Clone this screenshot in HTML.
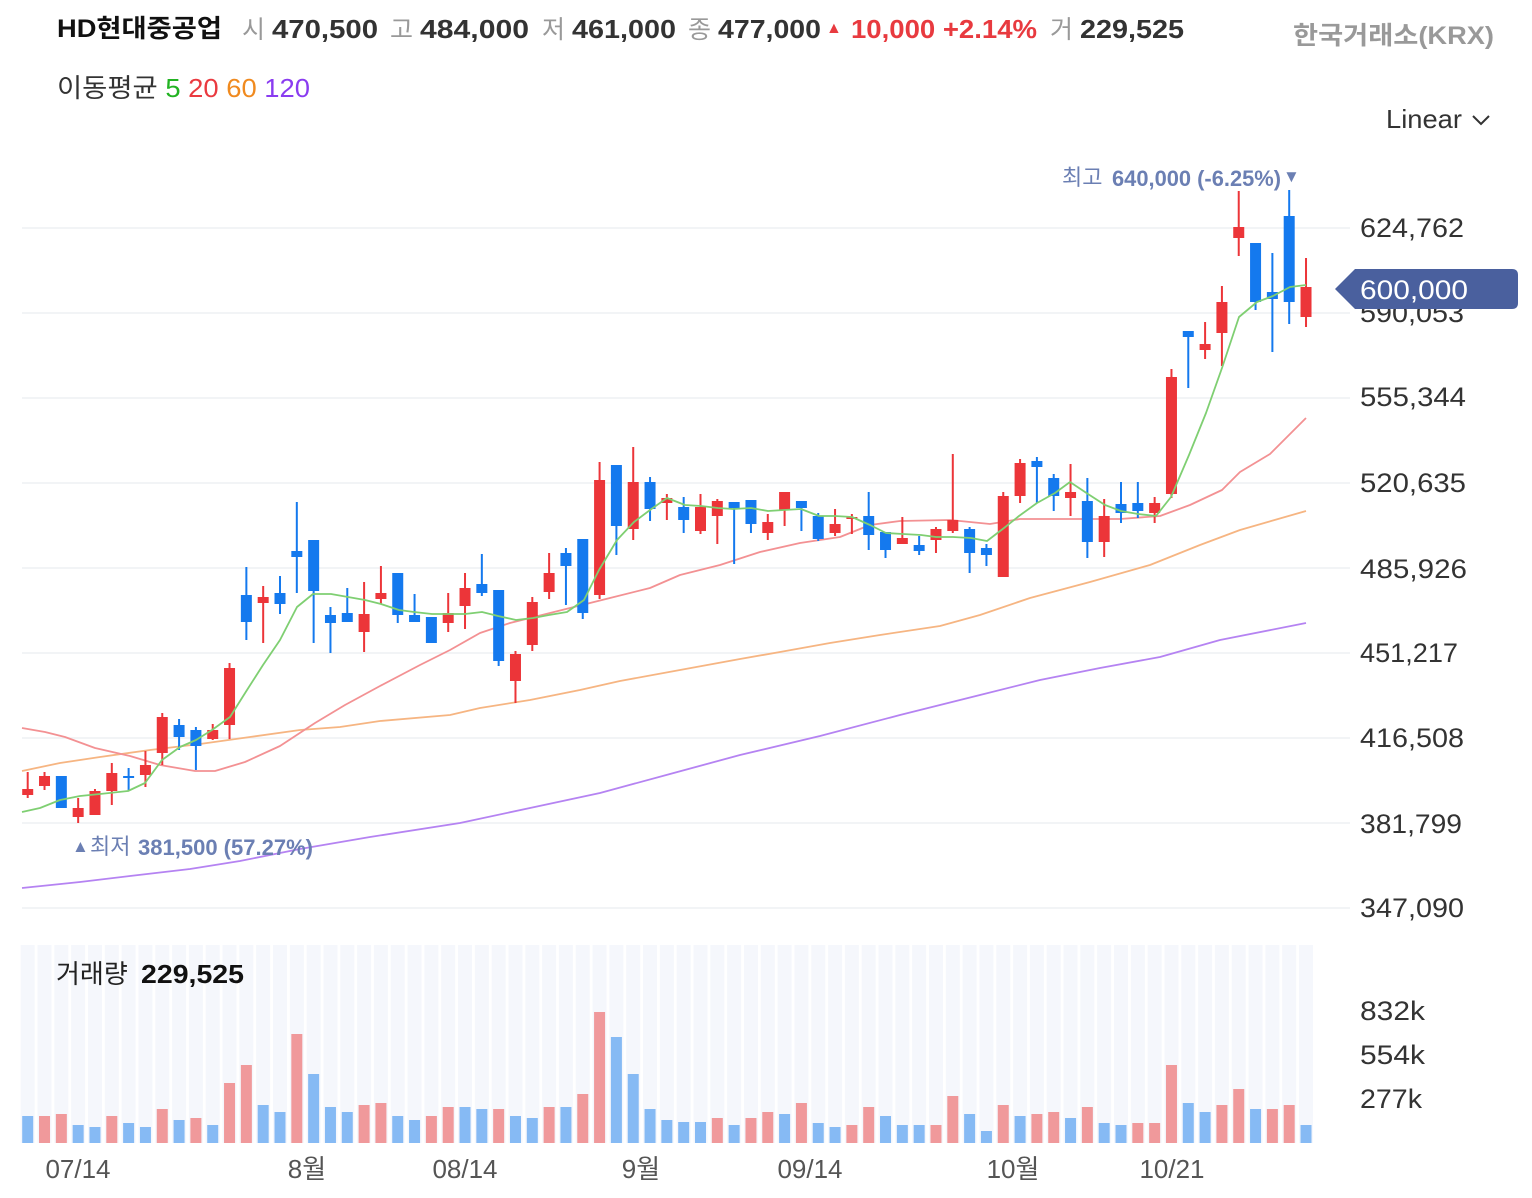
<!DOCTYPE html>
<html><head><meta charset="utf-8"><style>
html,body{margin:0;padding:0;background:#fff;width:1532px;height:1198px;overflow:hidden}
svg{display:block;font-family:"Liberation Sans","Noto Sans CJK KR",sans-serif}
</style></head><body>
<svg id="s" width="1532" height="1198" viewBox="0 0 1532 1198" xmlns="http://www.w3.org/2000/svg">
<g id="bg"></g>
<g stroke="#eef0f3" stroke-width="1.5">
<line x1="22" x2="1350" y1="228" y2="228"/><line x1="22" x2="1350" y1="313" y2="313"/><line x1="22" x2="1350" y1="398" y2="398"/><line x1="22" x2="1350" y1="483" y2="483"/><line x1="22" x2="1350" y1="568" y2="568"/><line x1="22" x2="1350" y1="653" y2="653"/><line x1="22" x2="1350" y1="738" y2="738"/><line x1="22" x2="1350" y1="823" y2="823"/><line x1="22" x2="1350" y1="908" y2="908"/>
</g>
<g id="vol"></g>
<g fill="none" stroke-width="1.8" stroke-linejoin="round">
<polyline id="m120" stroke="#b583f2"/>
<polyline id="m60" stroke="#f6b582"/>
<polyline id="m20" stroke="#f39193"/>
</g>
<g id="cand"></g>
<polyline id="m5" fill="none" stroke="#7fcf72" stroke-width="1.8" stroke-linejoin="round"/>
<text x="57" y="37" font-size="25" font-weight="bold" fill="#111" textLength="165" lengthAdjust="spacingAndGlyphs">HD현대중공업</text>
<g font-size="26" fill="#333">
<text x="242" y="38" fill="#999" font-size="25">시</text><text x="272" y="38" font-weight="bold" textLength="106" lengthAdjust="spacingAndGlyphs">470,500</text>
<text x="390" y="38" fill="#999" font-size="25">고</text><text x="420" y="38" font-weight="bold" textLength="109" lengthAdjust="spacingAndGlyphs">484,000</text>
<text x="542" y="38" fill="#999" font-size="25">저</text><text x="572" y="38" font-weight="bold" textLength="104" lengthAdjust="spacingAndGlyphs">461,000</text>
<text x="688" y="38" fill="#999" font-size="25">종</text><text x="718" y="38" font-weight="bold" textLength="103" lengthAdjust="spacingAndGlyphs">477,000</text>
<text x="826" y="33" fill="#e83a3f" font-size="16">▲</text>
<text x="851" y="38" fill="#e83a3f" font-weight="bold" textLength="186" lengthAdjust="spacingAndGlyphs">10,000 +2.14%</text>
<text x="1050" y="38" fill="#999" font-size="25">거</text><text x="1080" y="38" font-weight="bold" textLength="104" lengthAdjust="spacingAndGlyphs">229,525</text>
</g>
<text x="1293" y="44" font-size="25" font-weight="bold" fill="#999" textLength="201" lengthAdjust="spacingAndGlyphs">한국거래소(KRX)</text>
<text x="57" y="97" font-size="26" fill="#333" textLength="253" lengthAdjust="spacingAndGlyphs">이동평균 <tspan fill="#22b322">5</tspan> <tspan fill="#ea3a40">20</tspan> <tspan fill="#f08a1f">60</tspan> <tspan fill="#8a3cf0">120</tspan></text>
<text x="1386" y="128" font-size="26" fill="#333" textLength="76" lengthAdjust="spacingAndGlyphs">Linear</text>
<polyline points="1473,116 1481,124 1489,116" fill="none" stroke="#333" stroke-width="2"/>
<g font-size="27" fill="#333">
<text x="1360" y="237" textLength="104" lengthAdjust="spacingAndGlyphs">624,762</text>
<text x="1360" y="322" textLength="104" lengthAdjust="spacingAndGlyphs">590,053</text>
<text x="1360" y="406" textLength="106" lengthAdjust="spacingAndGlyphs">555,344</text>
<text x="1360" y="492" textLength="106" lengthAdjust="spacingAndGlyphs">520,635</text>
<text x="1360" y="578" textLength="107" lengthAdjust="spacingAndGlyphs">485,926</text>
<text x="1360" y="662" textLength="98" lengthAdjust="spacingAndGlyphs">451,217</text>
<text x="1360" y="747" textLength="104" lengthAdjust="spacingAndGlyphs">416,508</text>
<text x="1360" y="833" textLength="102" lengthAdjust="spacingAndGlyphs">381,799</text>
<text x="1360" y="917" textLength="104" lengthAdjust="spacingAndGlyphs">347,090</text>
<text x="1360" y="1020" textLength="65" lengthAdjust="spacingAndGlyphs">832k</text>
<text x="1360" y="1064" textLength="65" lengthAdjust="spacingAndGlyphs">554k</text>
<text x="1360" y="1108" textLength="62" lengthAdjust="spacingAndGlyphs">277k</text>
</g>
<path d="M1335,289 L1355,269 L1512,269 Q1518,269 1518,275 L1518,303 Q1518,309 1512,309 L1355,309 Z" fill="#4a609e"/>
<text x="1360" y="299" font-size="27" fill="#fff" textLength="108" lengthAdjust="spacingAndGlyphs">600,000</text>
<g font-size="22" fill="#6b7fb3">
<text x="1062" y="185">최고</text>
<text x="1112" y="186" font-weight="bold" textLength="169" lengthAdjust="spacingAndGlyphs">640,000 (-6.25%)</text>
<text x="1283" y="182" font-size="17">▼</text>
<text x="72" y="852" font-size="17">▲</text>
<text x="90" y="854">최저</text>
<text x="138" y="855" font-weight="bold" textLength="175" lengthAdjust="spacingAndGlyphs">381,500 (57.27%)</text>
</g>
<text x="56" y="983" font-size="26" fill="#222">거래량</text>
<text x="141" y="983" font-size="26" font-weight="bold" fill="#111" textLength="103" lengthAdjust="spacingAndGlyphs">229,525</text>
<g font-size="26" fill="#555" text-anchor="middle">
<text x="78" y="1178">07/14</text><text x="307" y="1178">8월</text><text x="465" y="1178">08/14</text><text x="641" y="1178">9월</text><text x="810" y="1178">09/14</text><text x="1013" y="1178">10월</text><text x="1172" y="1178">10/21</text>
</g>
</svg>
<script>
var NS="http://www.w3.org/2000/svg";
function X(i){return 27.7+16.82*i;}
function el(p,t,a){var e=document.createElementNS(NS,t);for(var k in a)e.setAttribute(k,a[k]);document.getElementById(p).appendChild(e);}
var C=[['r',789,795,772,798],['r',776,786,772,790],['b',776,808,776,808],['r',808,817,798,823],['r',791,815,789,815],['r',773,791,763,805],['b',776,778,768,791],['r',765,775,751,787],['r',717,753,713,765],['b',725,737,719,750],['b',730,746,727,770],['r',730,739,724,740],['r',668,725,663,739],['b',595,622,567,640],['r',597,603,586,643],['b',593,604,576,614],['b',551,557,502,593],['b',540,591,540,643],['b',615,623,607,653],['b',613,622,588,622],['r',614,632,582,652],['r',593,599,566,604],['b',573,615,573,623],['b',615,622,594,622],['b',617,643,617,643],['r',613,623,593,632],['r',588,606,573,629],['b',584,593,554,596],['b',590,661,590,666],['r',654,681,651,703],['r',602,645,597,651],['r',573,592,553,599],['b',553,566,548,605],['b',539,613,539,619],['r',480,595,462,599],['b',465,526,465,555],['r',482,529,447,540],['b',482,509,477,521],['r',498,503,494,520],['b',507,520,497,533],['r',507,531,494,534],['r',501,516,499,544],['b',502,508,502,564],['b',500,524,500,533],['r',522,533,514,540],['r',492,510,492,526],['b',501,508,501,531],['b',516,539,513,541],['r',524,533,509,536],['r',517,519,514,534],['b',516,535,492,550],['b',532,550,532,558],['r',538,544,517,544],['b',545,551,536,555],['r',529,540,527,553],['r',520,531,454,533],['b',529,553,527,573],['b',548,555,544,566],['r',496,577,492,577],['r',463,496,459,503],['b',461,467,457,503],['b',478,496,474,511],['r',492,498,464,516],['b',501,542,478,558],['r',516,542,499,557],['b',504,513,482,523],['b',503,511,482,518],['r',503,513,497,523],['r',377,494,369,498],['b',331,337,331,388],['r',344,350,322,359],['r',302,333,286,366],['r',227,238,191,256],['b',243,302,243,310],['b',292,299,253,352],['b',216,302,190,324],['r',287,317,258,327]];
var V="b1116 r1116 r1114 b1125 b1127 r1116 b1123 b1127 r1109 b1120 r1118 b1125 r1083 r1065 b1105 b1112 r1034 b1074 b1107 b1112 r1105 r1103 b1116 b1120 r1116 r1107 b1107 b1109 r1109 b1116 b1118 r1107 b1107 r1094 r1012 b1037 b1074 b1109 b1120 b1122 b1122 r1118 b1125 r1118 r1112 b1114 r1103 b1123 b1127 r1125 r1107 b1116 b1125 b1125 r1125 r1096 b1114 b1131 r1105 b1116 r1114 r1112 b1118 r1107 b1123 b1125 r1123 r1123 r1065 b1103 b1112 r1105 r1089 b1109 r1109 r1105 b1125".split(" ");
for(var i=0;i<77;i++){
 var x=X(i);
 el('bg','rect',{x:x-7,y:945,width:14,height:198,fill:'#f5f7fc'});
 var v=V[i],t=+v.slice(1);
 el('vol','rect',{x:x-5.5,y:t,width:11,height:1143-t,fill:v[0]=='r'?'#f0999b':'#86baf4'});
 var c=C[i],col=c[0]=='r'?'#ec3539':'#1479ee';
 el('cand','line',{x1:x,x2:x,y1:c[3],y2:c[4],stroke:col,'stroke-width':2});
 el('cand','rect',{x:x-5.5,y:c[1],width:11,height:Math.max(2,c[2]-c[1]),fill:col});
}
function P(id,s){document.getElementById(id).setAttribute('points',s);}
P('m5',"22,812 40,808 60,800 80,796 100,794 128,791 145,783 162,760 180,747 196,740 212,730 230,717 247,690 263,665 280,640 297,607 313,594 331,594 348,597 365,600 381,604 399,610 414,612 432,614 447,614 465,614 482,612 498,616 516,620 533,618 549,615 567,612 584,600 599,570 617,540 634,522 650,510 667,498 685,505 701,506 718,508 733,509 751,508 768,511 784,510 801,509 819,516 835,516 852,517 870,525 886,533 903,534 921,535 936,537 953,537 971,538 987,541 1004,528 1019,516 1037,503 1055,493 1070,482 1088,494 1105,505 1121,511 1138,514 1156,516 1171,497 1189,455 1206,413 1222,368 1239,317 1257,302 1273,296 1290,287 1306,285");
P('m20',"22,728 45,732 65,737 95,748 130,756 160,765 195,771 215,771 245,762 280,746 315,723 345,705 380,686 420,665 450,650 480,633 510,623 530,618 570,608 610,598 650,588 680,575 720,565 760,552 800,543 840,537 870,525 900,521 950,520 990,524 1020,519 1060,519 1120,519 1160,516 1190,505 1222,490 1240,472 1270,454 1306,418");
P('m60',"22,771 60,763 100,757 150,750 200,744 250,737 300,730 340,727 380,721 450,715 480,708 530,700 580,690 620,681 680,670 740,659 780,652 830,643 880,635 940,626 980,615 1030,598 1090,582 1150,565 1200,545 1240,530 1306,511");
P('m120',"22,888 80,882 130,876 190,869 240,861 300,849 370,837 460,823 530,808 600,793 670,774 740,755 820,736 900,715 980,695 1040,680 1100,668 1160,657 1220,640 1306,623");
</script>
</body></html>
